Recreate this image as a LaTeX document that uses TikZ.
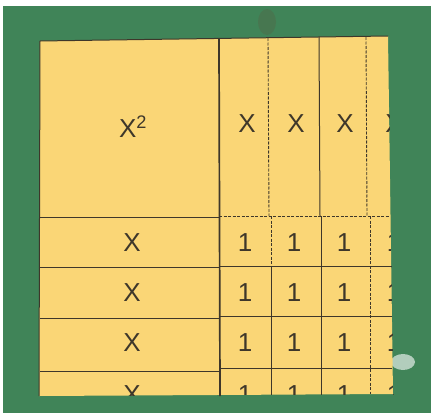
\documentclass[tikz,border=0pt]{standalone}
\usepackage{fontspec}
\setmainfont{Liberation Sans}
\definecolor{mat}{RGB}{64,132,88}
\definecolor{tile}{RGB}{250,214,118}
\definecolor{ink}{RGB}{62,55,42}
\definecolor{smudge}{RGB}{90,90,64}

\begin{document}
\begin{tikzpicture}[x=1pt, y=-1pt,
    lbl/.style={font=\fontsize{26}{30}\selectfont, text=ink, inner sep=0pt},
    edge/.style={draw=ink, line width=1pt},
    seam/.style={draw=ink, line width=0.9pt, dash pattern=on 3pt off 1.5pt},
    cut/.style={draw=ink, line width=1.7pt},
  ]
  \useasboundingbox (0,0) rectangle (431,415);
  \fill[white] (0,0) rectangle (431,415);
  \fill[mat] (3,6) rectangle (431,413);
  \fill[smudge, opacity=0.3] (267,22) ellipse [x radius=9, y radius=13];
  \fill[white, opacity=0.6] (403,362) ellipse [x radius=12, y radius=8];

  \coordinate (tl) at (40,41);
  \coordinate (tr) at (388,36);
  \coordinate (br) at (393,394);
  \coordinate (bl) at (39,396);
  \fill[tile] (tl) -- (tr) -- (br) -- (bl) -- cycle;

  % labels, cut off at the tile edge
  \begin{scope}
    \clip (tl) -- (tr) -- (br) -- (bl) -- cycle;
    \node[lbl] (sq) at (133,127) {X\textsuperscript{2}};
    \foreach \c [count=\i] in {247,296,345,394} {
      \node[lbl] (x\i) at (\c,124) {X};
    }
    \foreach \r [count=\j] in {243,293,343,395} {
      \node[lbl] (r\j) at (132,\r) {X};
      \foreach \c [count=\i] in {245,294,344,394} {
        \node[lbl] (u\j\i) at (\c,\r) {1};
      }
    }
  \end{scope}

  % x^2 and x tiles
  \draw[edge] (tl) -- (tr);
  \draw[edge] (tl) -- (bl);
  \draw[cut] (219,39) -- (220,396);
  \draw[seam] (268,38) -- (269,216);
  \draw[edge] (319,37) -- (320,216);
  \draw[seam] (366,37) -- (367,216);
  \foreach \y in {217,267,318,371}
    \draw[edge] (40,\y) -- (219,\y);

  % unit tiles
  \draw[seam] (219,216) -- (390,216);
  \foreach \y in {266,316,368}
    \draw[edge] (219,\y) -- (392,\y);
  \draw[seam] (271,216) -- (271,266);
  \draw[edge] (271,266) -- (271,395);
  \draw[edge] (321,216) -- (321,395);
  \draw[seam] (370,216) -- (370,394);
\end{tikzpicture}
\end{document}
